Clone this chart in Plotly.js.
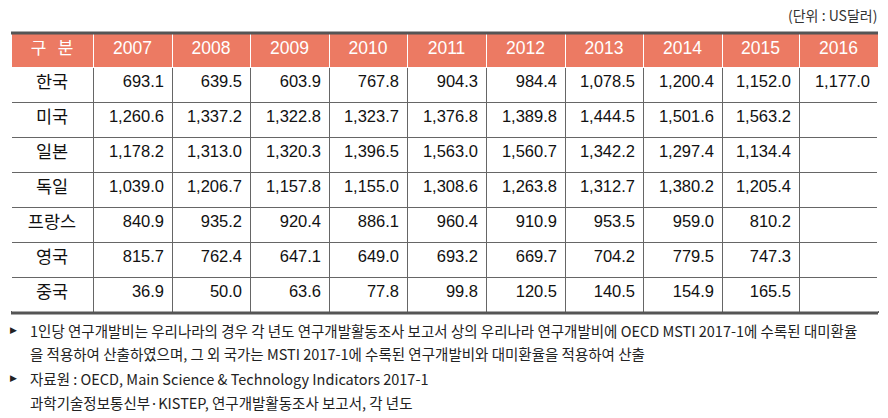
<!DOCTYPE html>
<html>
<head>
<meta charset="utf-8">
<script src="https://cdn.plot.ly/plotly-3.0.1.min.js"></script>
<style>html,body{margin:0;padding:0;background:#fff;}#chart{width:888px;height:418px;}</style>
</head>
<body>
<div id="chart"></div>
<script>
// ---- data ----
const headerLabel = '구\u00a0\u00a0\u00a0분';
const years = ['2007','2008','2009','2010','2011','2012','2013','2014','2015','2016'];
const countries = ['한국','미국','일본','독일','프랑스','영국','중국'];
const korea   = [693.1, 639.5, 603.9, 767.8, 904.3, 984.4, 1078.5, 1200.4, 1152.0, 1177.0];
const usa     = [1260.6, 1337.2, 1322.8, 1323.7, 1376.8, 1389.8, 1444.5, 1501.6, 1563.2, null];
const japan   = [1178.2, 1313.0, 1320.3, 1396.5, 1563.0, 1560.7, 1342.2, 1297.4, 1134.4, null];
const germany = [1039.0, 1206.7, 1157.8, 1155.0, 1308.6, 1263.8, 1312.7, 1380.2, 1205.4, null];
const france  = [840.9, 935.2, 920.4, 886.1, 960.4, 910.9, 953.5, 959.0, 810.2, null];
const uk      = [815.7, 762.4, 647.1, 649.0, 693.2, 669.7, 704.2, 779.5, 747.3, null];
const china   = [36.9, 50.0, 63.6, 77.8, 99.8, 120.5, 140.5, 154.9, 165.5, null];
const unitNote = '(단위 : US달러)';
const notes = [
  '1인당 연구개발비는 우리나라의 경우 각 년도 연구개발활동조사 보고서 상의 우리나라 연구개발비에 OECD MSTI 2017-1에 수록된 대미환율',
  '을 적용하여 산출하였으며, 그 외 국가는 MSTI 2017-1에 수록된 연구개발비와 대미환율을 적용하여 산출',
  '자료원 : OECD, Main Science & Technology Indicators 2017-1',
  '과학기술정보통신부·KISTEP, 연구개발활동조사 보고서, 각 년도'
];
const noteBullets = [true, false, true, false];

// ---- build ----
const rows = [korea, usa, japan, germany, france, uk, china];
const fmt = v => (v === null || v === undefined) ? '' :
  v.toLocaleString('en-US', {minimumFractionDigits: 1, maximumFractionDigits: 1});
const cellValues = [countries].concat(years.map((y, j) => rows.map(r => fmt(r[j]))));

const W = 888, H = 418;
const px = x => x / W;
const py = y => 1 - y / H;

const krFont = 'Noto Sans CJK KR, Noto Sans, sans-serif';
const numFont = 'Liberation Sans, Arial, sans-serif';

const trace = {
  type: 'table',
  domain: {x: [px(11), px(878)], y: [py(330), py(33)]},
  columnwidth: [82, 79, 78, 79, 78, 79, 79, 78, 79, 77, 79],
  header: {
    values: [headerLabel].concat(years),
    align: 'center',
    height: 34,
    fill: {color: '#ec7a63'},
    line: {color: '#ffffff', width: 1},
    font: {family: [krFont].concat(years.map(() => numFont)), size: [17].concat(years.map(() => 17.5)), color: '#ffffff'}
  },
  cells: {
    values: cellValues,
    align: ['center'].concat(years.map(() => 'right')),
    height: 35,
    fill: {color: '#ffffff'},
    line: {color: '#666666', width: 1},
    font: {family: [krFont].concat(years.map(() => numFont)), size: [17.5].concat(years.map(() => 16.5)), color: '#111111'}
  }
};

const shapes = [
  {type: 'line', xref: 'paper', yref: 'paper', x0: px(11), x1: px(878), y0: py(33), y1: py(33), line: {color: '#555555', width: 3}},
  {type: 'line', xref: 'paper', yref: 'paper', x0: px(11), x1: px(878), y0: py(313), y1: py(313), line: {color: '#555555', width: 3}},
  {type: 'line', xref: 'paper', yref: 'paper', x0: px(11), x1: px(11), y0: py(68), y1: py(311), line: {color: '#ffffff', width: 2}},
  {type: 'line', xref: 'paper', yref: 'paper', x0: px(878), x1: px(878), y0: py(68), y1: py(311), line: {color: '#ffffff', width: 2}}
];

const annotations = [
  {text: unitNote, xref: 'paper', yref: 'paper', x: px(879), y: py(15), xanchor: 'right', yanchor: 'middle', showarrow: false,
   font: {family: krFont, size: 14, color: '#333333'}}
];
const noteY = [330, 353, 378, 402];
notes.forEach((t, i) => {
  annotations.push({text: t, xref: 'paper', yref: 'paper', x: px(28), y: py(noteY[i]), xanchor: 'left', yanchor: 'middle',
    showarrow: false, font: {family: krFont, size: 14.5, color: '#222222'}});
  if (noteBullets[i]) {
    annotations.push({text: '▶', xref: 'paper', yref: 'paper', x: px(14), y: py(noteY[i]), xanchor: 'center', yanchor: 'middle',
      showarrow: false, font: {family: 'DejaVu Sans, sans-serif', size: 9, color: '#222222'}});
  }
});

const layout = {
  width: W, height: H,
  margin: {l: 0, r: 0, t: 0, b: 0},
  paper_bgcolor: '#ffffff',
  shapes: shapes,
  annotations: annotations,
  showlegend: false
};

Plotly.newPlot('chart', [trace], layout, {displayModeBar: false, staticPlot: true});
</script>
</body>
</html>
